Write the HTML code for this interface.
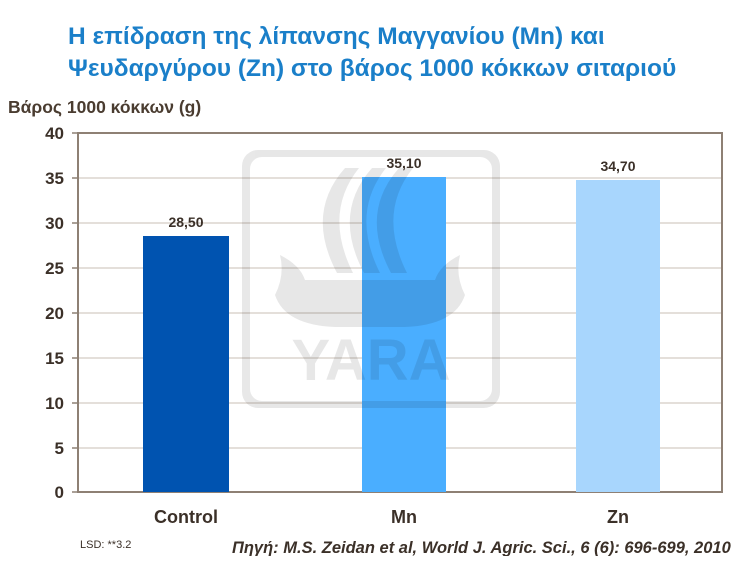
<!DOCTYPE html>
<html><head><meta charset="utf-8"><style>
body{margin:0;width:740px;height:556px;background:#fff;overflow:hidden;font-family:"Liberation Sans",sans-serif;}
</style></head><body>
<svg width="740" height="556" xmlns="http://www.w3.org/2000/svg" font-family="Liberation Sans, sans-serif">
<text x="68" y="44" font-size="24.5" font-weight="bold" fill="#1a7fc9">Η επίδραση της λίπανσης Μαγγανίου (Mn) και</text>
<text x="68" y="76" font-size="24.5" font-weight="bold" fill="#1a7fc9">Ψευδαργύρου (Zn) στο βάρος 1000 κόκκων σιταριού</text>
<text x="8" y="113" font-size="17.5" font-weight="bold" fill="#4a3c30">Βάρος 1000 κόκκων (g)</text>
<g stroke="#c9bfb6" stroke-width="1">
<line x1="78" y1="178" x2="722" y2="178"/><line x1="78" y1="223" x2="722" y2="223"/>
<line x1="78" y1="268" x2="722" y2="268"/><line x1="78" y1="313" x2="722" y2="313"/>
<line x1="78" y1="358" x2="722" y2="358"/><line x1="78" y1="403" x2="722" y2="403"/>
<line x1="78" y1="448" x2="722" y2="448"/>
</g>
<rect x="78" y="133" width="644" height="359" fill="none" stroke="#8e8074" stroke-width="2"/>
<g stroke="#8e8074" stroke-width="1.5">
<line x1="72" y1="133" x2="78" y2="133"/><line x1="72" y1="178" x2="78" y2="178"/><line x1="72" y1="223" x2="78" y2="223"/><line x1="72" y1="268" x2="78" y2="268"/><line x1="72" y1="313" x2="78" y2="313"/><line x1="72" y1="358" x2="78" y2="358"/><line x1="72" y1="403" x2="78" y2="403"/><line x1="72" y1="448" x2="78" y2="448"/><line x1="72" y1="492" x2="78" y2="492"/>
</g>
<g font-size="17" font-weight="bold" fill="#3b3028" text-anchor="end">
<text x="64" y="139">40</text><text x="64" y="184">35</text><text x="64" y="229">30</text><text x="64" y="274">25</text><text x="64" y="319">20</text><text x="64" y="364">15</text><text x="64" y="409">10</text><text x="64" y="454">5</text><text x="64" y="498">0</text>
</g>
<rect x="143" y="236" width="86" height="256" fill="#0053b0"/>
<rect x="362" y="177" width="84" height="315" fill="#4aaeff"/>
<rect x="576" y="180" width="84" height="312" fill="#a8d6fd"/>
<g opacity="0.09" fill="#000">
<path d="M258 150 h226 a16 16 0 0 1 16 16 v226 a16 16 0 0 1 -16 16 h-226 a16 16 0 0 1 -16 -16 v-226 a16 16 0 0 1 16 -16z M262 157 a12 12 0 0 0 -12 12 v220 a12 12 0 0 0 12 12 h218 a12 12 0 0 0 12 -12 v-220 a12 12 0 0 0 -12 -12z" fill-rule="evenodd"/>
<path d="M345 168 q-40 45 -8 105 l16 0 q-30 -60 6 -105z"/>
<path d="M372 168 q-40 45 -8 105 l16 0 q-30 -60 6 -105z"/>
<path d="M399 168 q-40 45 -8 105 l16 0 q-30 -60 6 -105z"/>
<path d="M280 255 q5 20 -5 40 q10 30 60 32 h70 q50 -2 60 -32 q-10 -20 -5 -40 q-20 10 -25 25 h-130 q-5 -15 -25 -25z"/>
<text x="371" y="380" font-size="58" font-weight="bold" text-anchor="middle">YARA</text>
</g>
<g font-size="14" font-weight="bold" fill="#3b3028" text-anchor="middle">
<text x="186" y="227">28,50</text><text x="404" y="168">35,10</text><text x="618" y="171">34,70</text>
</g>
<g font-size="18" font-weight="bold" fill="#3b3028" text-anchor="middle">
<text x="186" y="523">Control</text><text x="404" y="523">Mn</text><text x="618" y="523">Zn</text>
</g>
<text x="80" y="548" font-size="11" fill="#3b3028">LSD: **3.2</text>
<text x="232" y="553" font-size="16.5" font-weight="bold" font-style="italic" fill="#3b3028">Πηγή: M.S. Zeidan et al, World J. Agric. Sci., 6 (6): 696-699, 2010</text>
</svg>
</body></html>
